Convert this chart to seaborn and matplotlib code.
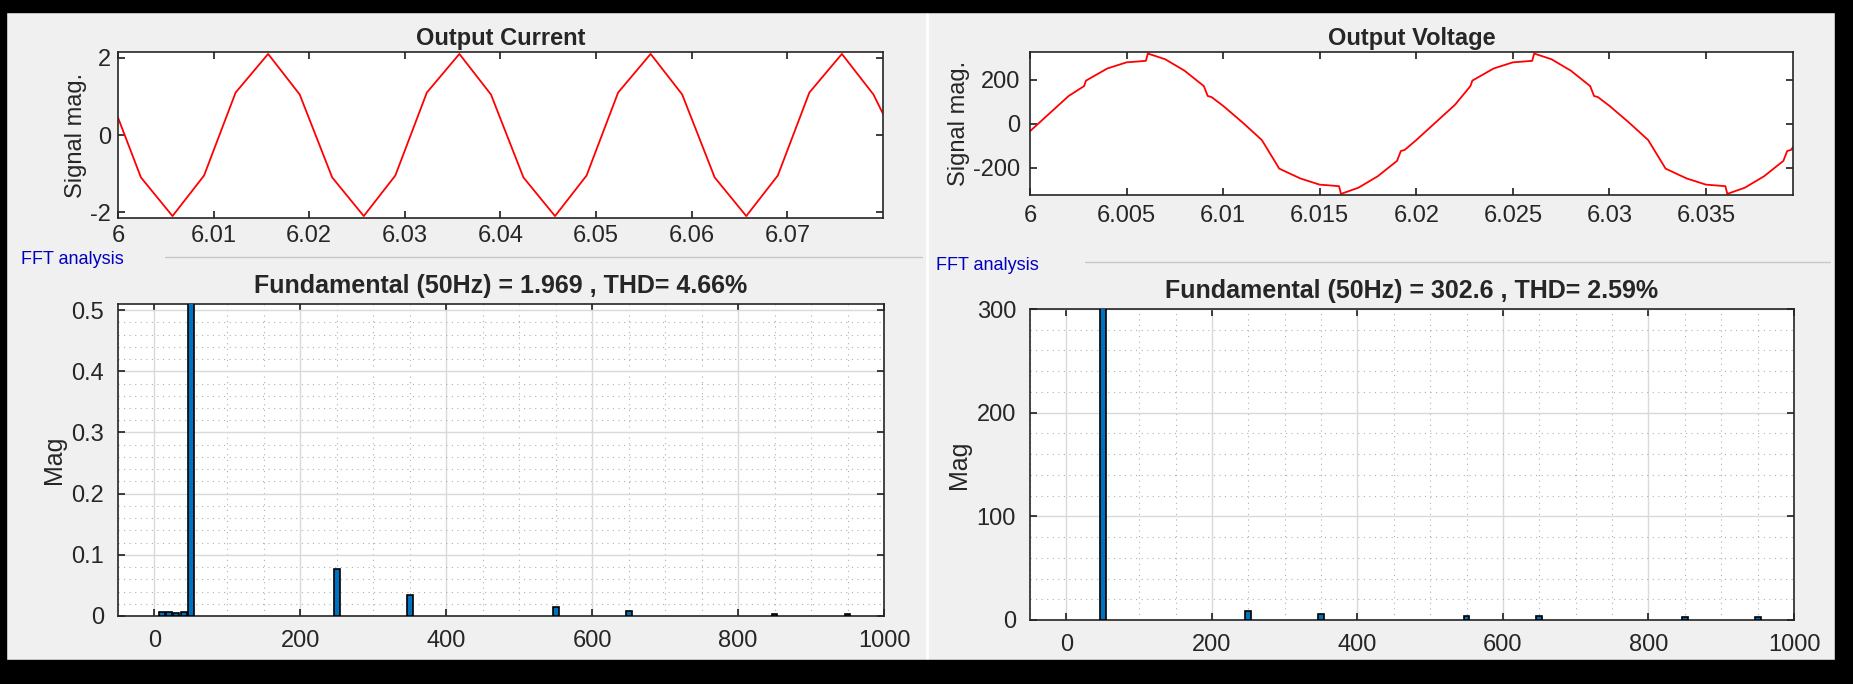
import numpy as np
import pandas as pd
import seaborn as sns
import matplotlib.pyplot as plt
from matplotlib.ticker import MultipleLocator, FuncFormatter
from matplotlib.patches import Rectangle
from matplotlib.lines import Line2D

# Output current samples (s, A)
i_time = [6.0, 6.0024, 6.0057, 6.009, 6.0123, 6.0157, 6.019, 6.0224, 6.0257, 6.029,
          6.0323, 6.0357, 6.039, 6.0424, 6.0457, 6.049, 6.0523, 6.0557, 6.059,
          6.0624, 6.0657, 6.069, 6.0723, 6.0757, 6.079, 6.08]
i_val = [0.45, -1.1, -2.1, -1.05, 1.1, 2.1, 1.05, -1.1, -2.1, -1.05,
         1.1, 2.1, 1.05, -1.1, -2.1, -1.05, 1.1, 2.1, 1.05,
         -1.1, -2.1, -1.05, 1.1, 2.1, 1.05, 0.55]

# Output voltage samples (s, V)
v_time = [6.0, 6.001, 6.002, 6.0028, 6.0029, 6.004, 6.005, 6.0056, 6.0060, 6.0061,
          6.007, 6.008, 6.009, 6.0092, 6.0094, 6.010, 6.011, 6.012, 6.0128, 6.0129,
          6.014, 6.015, 6.0156, 6.0160, 6.0161, 6.017, 6.018, 6.019, 6.0192, 6.0194,
          6.020, 6.021, 6.022, 6.0228, 6.0229, 6.024, 6.025, 6.0256, 6.0260, 6.0261,
          6.027, 6.028, 6.029, 6.0292, 6.0294, 6.030, 6.031, 6.032, 6.0328, 6.0329,
          6.034, 6.035, 6.0356, 6.0360, 6.0361, 6.037, 6.038, 6.039, 6.0392, 6.0394, 6.040]
v_val = [-35, 45, 125, 170, 195, 250, 278, 282, 285, 318,
         292, 240, 170, 125, 120, 80, 5, -75, -190, -205,
         -250, -278, -282, -285, -320, -292, -240, -170, -125, -120,
         -75, 5, 85, 170, 195, 250, 278, 282, 285, 318,
         292, 240, 170, 125, 120, 80, 5, -75, -190, -205,
         -250, -278, -282, -285, -320, -292, -240, -170, -125, -120, -45]

# FFT spectra (Hz, magnitude)
i_freq = [10, 20, 30, 40, 50, 250, 350, 550, 650, 850, 950]
i_mag = [0.007, 0.006, 0.005, 0.006, 1.969, 0.077, 0.035, 0.014, 0.008, 0.003, 0.003]
v_freq = [50, 250, 350, 550, 650, 850, 950]
v_mag = [302.6, 9, 6, 4, 4, 3, 3]

W, H = 1853, 684
sns.set_theme(style="white")
plt.rcParams['font.family'] = ['Liberation Sans', 'DejaVu Sans']
plt.rcParams['axes.unicode_minus'] = False
fig = plt.figure(figsize=(W / 100, H / 100), dpi=100, facecolor='#f0f0f0')


def px_axes(l, t, r, b):
    return fig.add_axes([l / W, 1 - b / H, (r - l) / W, (b - t) / H])


def style(ax, pad=10):
    ax.set_facecolor('white')
    for s in ax.spines.values():
        s.set_color('#262626')
        s.set_linewidth(1.2)
    ax.tick_params(direction='in', length=5, labelsize=17, colors='#262626',
                   top=True, right=True, bottom=True, left=True, pad=pad)


# top signals
ax1 = px_axes(118, 52, 883, 218)
sns.lineplot(x=i_time, y=i_val, ax=ax1, color='red', lw=1.3)
ax1.set_xlim(6.0, 6.08)
ax1.set_ylim(-2.15, 2.15)
ax1.set_xticks([6, 6.01, 6.02, 6.03, 6.04, 6.05, 6.06, 6.07])
ax1.set_xticklabels(['6', '6.01', '6.02', '6.03', '6.04', '6.05', '6.06', '6.07'])
ax1.set_yticks([-2, 0, 2])
ax1.set_ylabel('Signal mag.', fontsize=17, labelpad=2)
ax1.set_title('Output Current', fontsize=17, fontweight='bold', pad=5)
style(ax1, pad=5)

ax2 = px_axes(1030, 52, 1793, 195)
sns.lineplot(x=v_time, y=v_val, ax=ax2, color='red', lw=1.3)
ax2.set_xlim(6.0, 6.0395)
ax2.set_ylim(-325, 325)
ax2.set_xticks([6, 6.005, 6.01, 6.015, 6.02, 6.025, 6.03, 6.035])
ax2.set_xticklabels(['6', '6.005', '6.01', '6.015', '6.02', '6.025', '6.03', '6.035'])
ax2.set_yticks([-200, 0, 200])
ax2.set_ylabel('Signal mag.', fontsize=17, labelpad=2)
ax2.set_title('Output Voltage', fontsize=17, fontweight='bold', pad=5)
style(ax2, pad=7)


def fft_axes(ax, freq, mag, ymax, ymajor, yminor, title):
    ax.bar(freq, mag, width=8, color='#0072BD', edgecolor='black', lw=1.2, zorder=3)
    ax.set_xlim(-50, 1000)
    ax.set_ylim(0, ymax)
    ax.xaxis.set_major_locator(MultipleLocator(200))
    ax.xaxis.set_minor_locator(MultipleLocator(50))
    ax.yaxis.set_major_locator(MultipleLocator(ymajor))
    ax.yaxis.set_minor_locator(MultipleLocator(yminor))
    ax.yaxis.set_major_formatter(FuncFormatter(lambda v, p: f'{v:g}'))
    ax.grid(which='major', color='#d9d9d9', lw=1.0)
    ax.grid(which='minor', color='#b0b0b0', lw=0.8, ls=(0, (1, 4)))
    ax.set_axisbelow(True)
    ax.set_ylabel('Mag', fontsize=18)
    ax.set_title(title, fontsize=18, fontweight='bold', pad=8)
    style(ax)
    ax.tick_params(which='minor', length=0)


ax3 = px_axes(118, 304, 884, 616)
fft_axes(ax3, i_freq, i_mag, 0.51, 0.1, 0.02,
         'Fundamental (50Hz) = 1.969 , THD= 4.66%')
ax4 = px_axes(1030, 309, 1794, 620)
fft_axes(ax4, v_freq, v_mag, 300, 100, 20,
         'Fundamental (50Hz) = 302.6 , THD= 2.59%')

# panel decorations
fig.text(21 / W, 1 - 260 / H, 'FFT analysis', color='#0000c0', fontsize=13, va='center')
fig.text(936 / W, 1 - 265 / H, 'FFT analysis', color='#0000c0', fontsize=13, va='center')
fig.add_artist(Line2D([165 / W, 922 / W], [1 - 257 / H] * 2, color='#c8c8c8', lw=1))
fig.add_artist(Line2D([1085 / W, 1830 / W], [1 - 262 / H] * 2, color='#c8c8c8', lw=1))
fig.add_artist(Line2D([927 / W] * 2, [1 - 660 / H, 1 - 8 / H], color='white', lw=2))
# black frame
for rect in [(0, 0, 1, 24 / H), (0, 0, 6 / W, 1), (1 - 18 / W, 0, 18 / W, 1),
             (0, 1 - 12 / H, 1, 12 / H)]:
    fig.add_artist(Rectangle((rect[0], rect[1]), rect[2], rect[3],
                             transform=fig.transFigure, color='black', zorder=10))

fig.savefig('out.png', dpi=100, facecolor=fig.get_facecolor())
